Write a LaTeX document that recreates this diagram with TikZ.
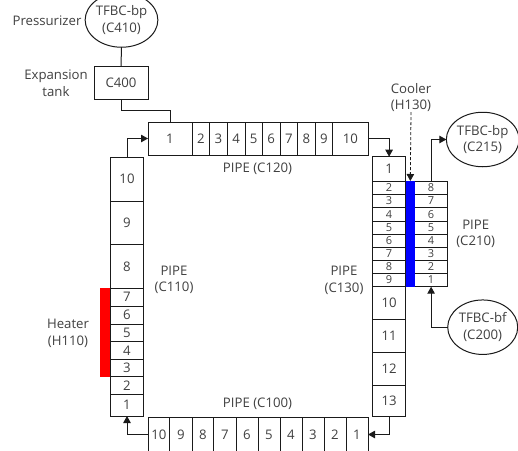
\documentclass[tikz,border=0pt]{standalone}
\usepackage{fontspec}
\setmainfont{Open Sans}
\usetikzlibrary{shapes.geometric,arrows.meta}
\definecolor{ink}{HTML}{1A1A1A}
\definecolor{txt}{HTML}{404040}
\newcommand{\cellbox}[7][\bigfont]{%
  \node[cell,font=#1,minimum width={(#5-#3)*1pt},minimum height={(#6-#4)*1pt}] (#2) at ({(#3+#5)/2},{(#4+#6)/2}) {#7};}
\newcommand{\bigfont}{\fontsize{13.2}{16.6}\selectfont}
\newcommand{\smallfont}{\fontsize{11}{11}\selectfont}
\tikzset{
  cell/.style={draw=ink,line width=1pt,inner sep=0pt,outer sep=0pt,text=txt,fill=white},
  tank/.style={ellipse,draw=ink,line width=1pt,inner sep=0pt,outer sep=0pt,minimum width=70pt,minimum height=54.5pt,
    align=center,text=txt,font=\bigfont,fill=white},
  lbl/.style={align=center,text=txt,font=\bigfont,inner sep=0pt},
  pipeline/.style={draw=ink,line width=1pt},
  flow/.style={pipeline,-{Triangle[length=7pt,width=7.5pt]}}
}
\begin{document}
\begin{tikzpicture}[x=1pt,y=-1pt]
\useasboundingbox (0,0) rectangle (518,450);
\clip (0,0) rectangle (518,450);
% top pipe C120
\cellbox{t1}{148}{122}{192}{155}{1}
\cellbox{t2}{192}{122}{209.7}{155}{2}
\cellbox{t3}{209.7}{122}{227.3}{155}{3}
\cellbox{t4}{227.3}{122}{245}{155}{4}
\cellbox{t5}{245}{122}{262.5}{155}{5}
\cellbox{t6}{262.5}{122}{280}{155}{6}
\cellbox{t7}{280}{122}{297.7}{155}{7}
\cellbox{t8}{297.7}{122}{315}{155}{8}
\cellbox{t9}{315}{122}{332.7}{155}{9}
\cellbox{t10}{332.7}{122}{368}{155}{10}
% left pipe C110
\cellbox{l10}{110.5}{157}{143.5}{201}{10}
\cellbox{l9}{110.5}{201}{143.5}{244.5}{9}
\cellbox{l8}{110.5}{244.5}{143.5}{288.5}{8}
\cellbox{l7}{110.5}{288.5}{143.5}{306}{7}
\cellbox{l6}{110.5}{306}{143.5}{324}{6}
\cellbox{l5}{110.5}{324}{143.5}{341.7}{5}
\cellbox{l4}{110.5}{341.7}{143.5}{359.3}{4}
\cellbox{l3}{110.5}{359.3}{143.5}{376.7}{3}
\cellbox{l2}{110.5}{376.7}{143.5}{394.3}{2}
\cellbox{l1}{110.5}{394.3}{143.5}{416}{1}
% bottom pipe C100
\cellbox{b10}{148}{417.7}{169.7}{451.3}{10}
\cellbox{b9}{169.7}{417.7}{192}{451.3}{9}
\cellbox{b8}{192}{417.7}{213.7}{451.3}{8}
\cellbox{b7}{213.7}{417.7}{236}{451.3}{7}
\cellbox{b6}{236}{417.7}{258}{451.3}{6}
\cellbox{b5}{258}{417.7}{280}{451.3}{5}
\cellbox{b4}{280}{417.7}{302}{451.3}{4}
\cellbox{b3}{302}{417.7}{324}{451.3}{3}
\cellbox{b2}{324}{417.7}{346}{451.3}{2}
\cellbox{b1}{346}{417.7}{368}{451.3}{1}
% right pipe C130
\cellbox{r1}{372.5}{156.7}{405.7}{181}{1}
\cellbox[\smallfont]{r2}{372.5}{181}{405.7}{194.3}{2}
\cellbox[\smallfont]{r3}{372.5}{194.3}{405.7}{207.7}{3}
\cellbox[\smallfont]{r4}{372.5}{207.7}{405.7}{221}{4}
\cellbox[\smallfont]{r5}{372.5}{221}{405.7}{234}{5}
\cellbox[\smallfont]{r6}{372.5}{234}{405.7}{247.3}{6}
\cellbox[\smallfont]{r7}{372.5}{247.3}{405.7}{260.3}{7}
\cellbox[\smallfont]{r8}{372.5}{260.3}{405.7}{273}{8}
\cellbox[\smallfont]{r9}{372.5}{273}{405.7}{286.7}{9}
\cellbox{r10}{372.5}{286.7}{405.7}{319.3}{10}
\cellbox{r11}{372.5}{319.3}{405.7}{352.3}{11}
\cellbox{r12}{372.5}{352.3}{405.7}{385.3}{12}
\cellbox{r13}{372.5}{385.3}{405.7}{416}{13}
% secondary pipe C210
\cellbox[\smallfont]{s8}{414.7}{181}{447.5}{194.3}{8}
\cellbox[\smallfont]{s7}{414.7}{194.3}{447.5}{207.7}{7}
\cellbox[\smallfont]{s6}{414.7}{207.7}{447.5}{221}{6}
\cellbox[\smallfont]{s5}{414.7}{221}{447.5}{234}{5}
\cellbox[\smallfont]{s4}{414.7}{234}{447.5}{247.3}{4}
\cellbox[\smallfont]{s3}{414.7}{247.3}{447.5}{260.3}{3}
\cellbox[\smallfont]{s2}{414.7}{260.3}{447.5}{273}{2}
\cellbox[\smallfont]{s1}{414.7}{273}{447.5}{286.7}{1}
% heater and cooler bars
\fill[red] (100,288) rectangle (110,377);
\node[fill=blue,inner sep=0pt,outer sep=0pt,minimum width=9.6pt,minimum height=105.7pt] (cbar) at (410.3,233.85) {};
% expansion tank and boundary volumes
\cellbox{c400}{94}{66}{148}{99.3}{C400}
\node[tank] (c410) at (121.5,20) {TFBC-bp\\(C410)};
\node[tank] (c215) at (482.7,139.5) {TFBC-bp\\(C215)};
\node[tank] (c200) at (482.7,327.2) {TFBC-bf\\(C200)};
% labels
\node[lbl] at (47,20.5) {Pressurizer};
\node[lbl] at (56,83.5) {Expansion\\tank};
\node[lbl] at (257.5,169) {PIPE (C120)};
\node[lbl] at (174,280) {PIPE\\(C110)};
\node[lbl] at (68,333.5) {Heater\\(H110)};
\node[lbl] at (257.5,404) {PIPE (C100)};
\node[lbl] at (344,280.5) {PIPE\\(C130)};
\node[lbl] at (475.7,234) {PIPE\\(C210)};
\node[lbl] (cooler) at (411,97.5) {Cooler\\(H130)};
% connectors
\draw[pipeline] (c410.south) -- (c400.north);
\draw[pipeline] (c400.south) -- ++(0,11.4) -| (t1.north);
\draw[flow] (l10.north) |- (t1.west);
\draw[flow] (t10.east) -| (r1.north);
\draw[flow] (r13.south) |- (b1.east);
\draw[flow] (b10.west) -| (l1.south);
\draw[flow] (c200.west) -| (s1.south);
\draw[flow] (s8.north) |- (c215.west);
\draw[flow,densely dashed,line width=0.8pt,-{Triangle[length=7pt,width=7.5pt]}] (cooler.south) -- (cbar.north);
\end{tikzpicture}
\end{document}
